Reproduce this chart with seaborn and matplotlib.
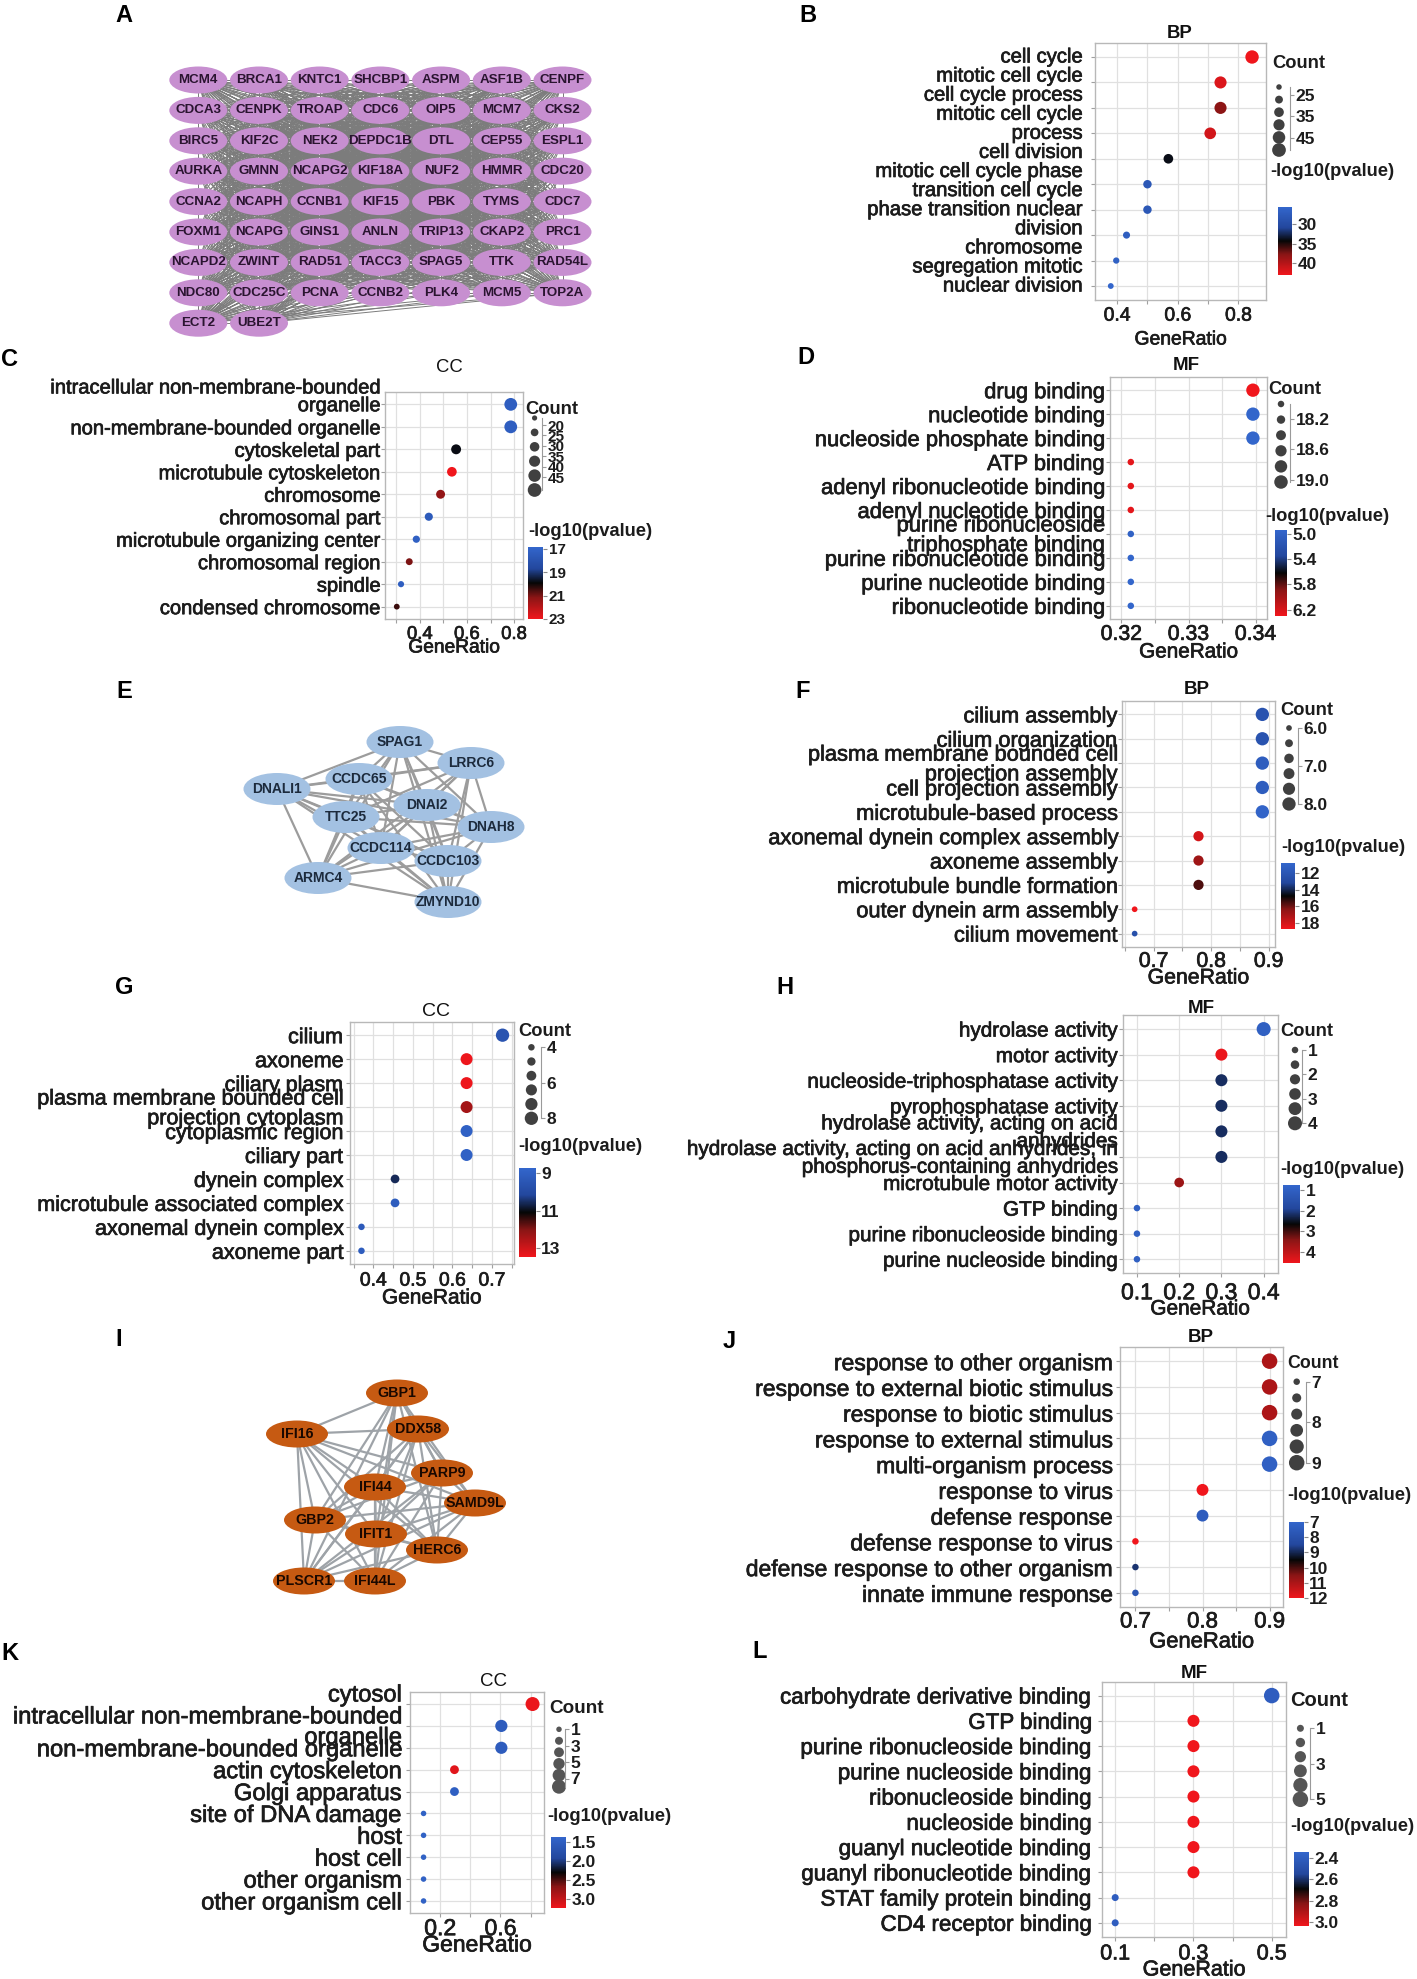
import numpy as np
import pandas as pd
import matplotlib
matplotlib.use("Agg")
import matplotlib.pyplot as plt
import matplotlib.transforms as mtransforms
import matplotlib.patheffects as pe
import seaborn as sns
from matplotlib.colors import LinearSegmentedColormap, Normalize
from matplotlib.cm import ScalarMappable
from matplotlib.patches import Ellipse
from matplotlib.collections import LineCollection
from itertools import combinations

W, H = 1417, 1979
sns.set_theme(style="white")
plt.rcParams["font.family"] = ["Liberation Sans", "DejaVu Sans"]

# ---------------- data ----------------
# network A (cell cycle module), row by row
a_genes = ["MCM4", "BRCA1", "KNTC1", "SHCBP1", "ASPM", "ASF1B", "CENPF",
           "CDCA3", "CENPK", "TROAP", "CDC6", "OIP5", "MCM7", "CKS2",
           "BIRC5", "KIF2C", "NEK2", "DEPDC1B", "DTL", "CEP55", "ESPL1",
           "AURKA", "GMNN", "NCAPG2", "KIF18A", "NUF2", "HMMR", "CDC20",
           "CCNA2", "NCAPH", "CCNB1", "KIF15", "PBK", "TYMS", "CDC7",
           "FOXM1", "NCAPG", "GINS1", "ANLN", "TRIP13", "CKAP2", "PRC1",
           "NCAPD2", "ZWINT", "RAD51", "TACC3", "SPAG5", "TTK", "RAD54L",
           "NDC80", "CDC25C", "PCNA", "CCNB2", "PLK4", "MCM5", "TOP2A",
           "ECT2", "UBE2T"]

# network E (cilium module) layout
e_genes = ["SPAG1", "LRRC6", "DNALI1", "CCDC65", "DNAI2", "TTC25",
           "DNAH8", "CCDC114", "CCDC103", "ARMC4", "ZMYND10"]
e_x = [400, 471, 277, 359, 427, 346, 491, 381, 448, 318, 448]
e_y = [742, 763, 789, 779, 805, 817, 827, 848, 861, 878, 902]

# network I (interferon module) layout
i_genes = ["GBP1", "IFI16", "DDX58", "PARP9", "IFI44", "SAMD9L",
           "GBP2", "IFIT1", "HERC6", "PLSCR1", "IFI44L"]
i_x = [397, 297, 418, 442, 375, 475, 315, 376, 437, 304, 375]
i_y = [1393, 1434, 1429, 1473, 1487, 1503, 1520, 1534, 1550, 1581, 1581]

# B: BP
b_terms = ["cell cycle", "mitotic cell cycle", "cell cycle process",
           "mitotic cell cycle process", "cell division",
           "mitotic cell cycle phase transition", "cell cycle phase transition",
           "nuclear division", "chromosome segregation", "mitotic nuclear division"]
b_lines = ["cell cycle", "mitotic cell cycle", "cell cycle process", "mitotic cell cycle",
           "process", "cell division", "mitotic cell cycle phase", "transition cell cycle",
           "phase transition nuclear", "division", "chromosome", "segregation mitotic",
           "nuclear division"]
b_ratio = [0.845, 0.741, 0.741, 0.707, 0.569, 0.500, 0.500, 0.431, 0.397, 0.379]
b_count = [49, 43, 43, 41, 33, 29, 29, 25, 23, 22]
b_logp = [43.0, 42.0, 38.0, 41.5, 34.0, 28.0, 28.0, 27.0, 26.5, 25.6]

# C: CC
c_terms = ["intracellular non-membrane-bounded\norganelle\n", "non-membrane-bounded organelle",
           "cytoskeletal part", "microtubule cytoskeleton", "chromosome", "chromosomal part",
           "microtubule organizing center", "chromosomal region", "spindle",
           "condensed chromosome"]
c_ratio = [0.786, 0.786, 0.554, 0.536, 0.488, 0.438, 0.385, 0.355, 0.320, 0.302]
c_count = [46, 46, 32, 31, 28, 25, 22, 21, 19, 18]
c_logp = [17.3, 17.3, 19.8, 23.0, 21.3, 17.5, 17.2, 21.0, 17.3, 20.4]

# D: MF
d_terms = ["drug binding", "nucleotide binding", "nucleoside phosphate binding", "ATP binding",
           "adenyl ribonucleotide binding", "adenyl nucleotide binding",
           "purine ribonucleoside\ntriphosphate binding", "purine ribonucleotide binding",
           "purine nucleotide binding", "ribonucleotide binding"]
d_ratio = [0.3396, 0.3396, 0.3396, 0.3214, 0.3214, 0.3214, 0.3214, 0.3214, 0.3214, 0.3214]
d_count = [19, 19, 19, 18, 18, 18, 18, 18, 18, 18]
d_logp = [6.3, 4.95, 4.95, 6.25, 6.25, 6.25, 5.0, 4.95, 4.95, 4.95]

# F: BP
f_terms = ["cilium assembly", "cilium organization",
           "plasma membrane bounded cell\nprojection assembly", "cell projection assembly",
           "microtubule-based process", "axonemal dynein complex assembly", "axoneme assembly",
           "microtubule bundle formation", "outer dynein arm assembly", "cilium movement"]
f_ratio = [0.889, 0.889, 0.889, 0.889, 0.889, 0.778, 0.778, 0.778, 0.667, 0.667]
f_count = [8, 8, 8, 8, 8, 7, 7, 7, 6, 6]
f_logp = [12.3, 12.3, 11.5, 11.5, 11.0, 18.0, 16.8, 15.6, 18.7, 12.5]

# G: CC
g_terms = ["cilium", "axoneme", "ciliary plasm",
           "plasma membrane bounded cell\nprojection cytoplasm", "cytoplasmic region",
           "ciliary part", "dynein complex", "microtubule associated complex",
           "axonemal dynein complex", "axoneme part"]
g_ratio = [0.727, 0.636, 0.636, 0.636, 0.636, 0.636, 0.455, 0.455, 0.370, 0.370]
g_count = [8, 7, 7, 7, 7, 7, 5, 5, 4, 4]
g_logp = [9.6, 13.4, 13.4, 12.4, 9.0, 9.0, 10.6, 9.2, 9.3, 9.2]

# H: MF
h_terms = ["hydrolase activity", "motor activity", "nucleoside-triphosphatase activity",
           "pyrophosphatase activity", "hydrolase activity, acting on acid\nanhydrides",
           "hydrolase activity, acting on acid anhydrides, in\nphosphorus-containing anhydrides",
           "microtubule motor activity", "GTP binding", "purine ribonucleoside binding",
           "purine nucleoside binding"]
h_ratio = [0.4, 0.3, 0.3, 0.3, 0.3, 0.3, 0.2, 0.1, 0.1, 0.1]
h_count = [4, 3, 3, 3, 3, 3, 2, 1, 1, 1]
h_logp = [1.0, 4.5, 2.2, 2.2, 2.2, 2.2, 3.6, 1.0, 1.0, 1.0]

# J: BP
j_terms = ["response to other organism", "response to external biotic stimulus",
           "response to biotic stimulus", "response to external stimulus",
           "multi-organism process", "response to virus", "defense response",
           "defense response to virus", "defense response to other organism",
           "innate immune response"]
j_ratio = [0.9, 0.9, 0.9, 0.9, 0.9, 0.8, 0.8, 0.7, 0.7, 0.7]
j_count = [9, 9, 9, 9, 9, 8, 8, 7, 7, 7]
j_logp = [11.0, 11.0, 11.0, 7.3, 7.3, 12.0, 7.5, 12.0, 8.8, 7.8]

# K: CC
k_terms = ["cytosol\n", "intracellular non-membrane-bounded\norganelle",
           "non-membrane-bounded organelle", "actin cytoskeleton", "Golgi apparatus",
           "site of DNA damage", "host", "host cell", "other organism", "other organism cell"]
k_ratio = [0.813, 0.606, 0.606, 0.295, 0.295, 0.09, 0.09, 0.09, 0.09, 0.09]
k_count = [8, 6, 6, 3, 3, 1, 1, 1, 1, 1]
k_logp = [3.2, 1.55, 1.55, 3.15, 1.5, 1.45, 1.45, 1.45, 1.45, 1.45]

# L: MF
l_terms = ["carbohydrate derivative binding", "GTP binding", "purine ribonucleoside binding",
           "purine nucleoside binding", "ribonucleoside binding", "nucleoside binding",
           "guanyl nucleotide binding", "guanyl ribonucleotide binding",
           "STAT family protein binding", "CD4 receptor binding"]
l_ratio = [0.5, 0.3, 0.3, 0.3, 0.3, 0.3, 0.3, 0.3, 0.1, 0.1]
l_count = [5, 3, 3, 3, 3, 3, 3, 3, 1, 1]
l_logp = [2.4, 3.04, 3.04, 3.04, 3.04, 3.04, 3.04, 3.04, 2.4, 2.4]

# ---------------- helpers ----------------
CMAP = LinearSegmentedColormap.from_list(
    "bkr", [(0, "#3366cc"), (0.3, "#23479d"), (0.5, "#060606"), (0.7, "#8a1515"), (1, "#f0161c")])
TXT = "#1c1c1c"
PX = 100 / 72.0  # px per pt
HEAVY = [pe.withStroke(linewidth=0.5, foreground=TXT)]

fig = plt.figure(figsize=(W / 100, H / 100), dpi=100)


def px_axes(l, t, r, b, **kw):
    return fig.add_axes([l / W, 1 - b / H, (r - l) / W, (b - t) / H], **kw)


def ftext(x, y, s, **kw):
    return fig.text(x / W, 1 - y / H, s, **kw)


def area(d):
    return (d / PX) ** 2


def dotplot(terms, ratio, count, logp, cfg, lines=None):
    l, t, r, b = cfg["box"]
    ax = px_axes(l, t, r, b)
    n = len(terms)
    df = pd.DataFrame({"term": terms, "GeneRatio": ratio, "Count": count, "logp": logp})
    c0, c1 = cfg["crange"]
    d0, d1 = cfg["diam"]
    vmin, vmax = cfg["vlim"]
    sns.scatterplot(data=df, x="GeneRatio", y="term", hue="logp", size="Count",
                    palette=CMAP, hue_norm=(vmin, vmax), sizes=(area(d0), area(d1)),
                    size_norm=(c0, c1), linewidth=0, legend=False, ax=ax, zorder=3)
    ax.set_xlim(*cfg["xlim"])
    ax.set_ylim(n - 1 + 0.55, -0.55)
    ax.set_xticks(cfg["xmajor"], labels=[cfg["xfmt"].format(v) for v in cfg["xmajor"]])
    ax.set_xticks(cfg["xminor"], minor=True)
    ax.set_yticks(range(n))
    ax.set_yticklabels(terms if lines is None else [""] * n,
                       fontsize=cfg["lab"], color=TXT, linespacing=0.92)
    for lab in ax.get_yticklabels():
        lab.set_path_effects(HEAVY)
    for lab in ax.get_xticklabels():
        lab.set_fontsize(cfg["tick"])
        lab.set_color(TXT)
        lab.set_path_effects(HEAVY)
    ax.set_xlabel("")
    ax.set_ylabel("")
    ax.grid(True, which="both", color="#e0e0e0", lw=0.9)
    ax.set_axisbelow(True)
    for s in ax.spines.values():
        s.set_color("#b8b8b8")
        s.set_linewidth(1.0)
    ypad = max(0.0, (cfg["gap"] - 4.2) / PX)
    xpad = max(0.0, (cfg["xt_y"] - b - 4.2 - 0.38 * cfg["tick"] * PX) / PX)
    ax.tick_params(axis="y", which="major", left=True, length=3, width=0.8,
                   color="#a0a0a0", pad=ypad)
    ax.tick_params(axis="x", which="both", bottom=True, length=3, width=0.8,
                   color="#a0a0a0", pad=xpad)
    if lines is not None:
        tr = mtransforms.offset_copy(
            mtransforms.blended_transform_factory(ax.transAxes, ax.transData),
            fig=fig, x=-cfg["gap"], y=0, units="dots")
        for yy, s in zip(np.linspace(0, n - 1, len(lines)), lines):
            ax.text(0, yy, s, transform=tr, ha="right", va="center",
                    fontsize=cfg["lab"], color=TXT, path_effects=HEAVY)
    # title and axis label
    ftext(cfg["title_xy"][0], cfg["title_xy"][1], cfg["title"], ha="center", va="center",
          fontsize=cfg["tsize"], weight="bold" if cfg["tbold"] else "normal", color="#111111")
    ftext((l + r) / 2, cfg["xl_y"], "GeneRatio", ha="center", va="center",
          fontsize=cfg["xl"], color=TXT, path_effects=HEAVY)

    # size legend
    lg = cfg["leg"]
    ftext(lg["count"][0], lg["count"][1], "Count", ha="left", va="center",
          fontsize=lg.get("tsize", 13.2), weight="bold", color=TXT)
    cx, ctop, cbot = lg["circ"]
    per = (c1 - c0) / (cbot - ctop)
    m = 10
    lax = px_axes(cx - 12, ctop - m, lg["bx"], cbot + m)
    lax.set_xlim(cx - 12, lg["bx"])
    lax.set_ylim(c1 + m * per, c0 - m * per)
    vals = list(np.linspace(c0, c1, 6))
    ldf = pd.DataFrame({"x": [cx] * len(vals), "Count": vals})
    sns.scatterplot(data=ldf, x="x", y="Count", size="Count", sizes=(area(d0), area(d1)),
                    size_norm=(c0, c1), color=lg.get("col", "#404040"), linewidth=0,
                    legend=False, ax=lax, clip_on=False)
    lax.set_xlabel("")
    lax.set_ylabel("")
    lax.set_xticks([])
    lax.patch.set_visible(False)
    for k in ["top", "bottom", "left"]:
        lax.spines[k].set_visible(False)
    lax.spines["right"].set_bounds(c0, c1)
    lax.spines["right"].set_color("#9a9a9a")
    lax.spines["right"].set_linewidth(0.8)
    lax.yaxis.tick_right()
    lax.set_yticks(lg["ticks"], labels=[lg["fmt"].format(v) for v in lg["ticks"]])
    lax.tick_params(axis="y", right=True, length=3, width=0.8, color="#9a9a9a", pad=1,
                    labelsize=lg.get("nsize", 12.5), labelcolor=TXT)
    for lab in lax.get_yticklabels():
        lab.set_fontweight("bold")

    # colour bar
    ftext(lg["logt"][0], lg["logt"][1], "-log10(pvalue)", ha="left", va="center",
          fontsize=13.2, weight="bold", color=TXT)
    x0, y0, x1, y1 = lg["cbar"]
    cax = px_axes(x0, y0, x1, y1)
    cb = fig.colorbar(ScalarMappable(norm=Normalize(vmin, vmax), cmap=CMAP), cax=cax)
    cb.outline.set_visible(False)
    cax.invert_yaxis()
    cb.set_ticks(lg["cticks"], labels=[lg["cfmt"].format(v) for v in lg["cticks"]])
    cax.tick_params(length=3, width=0.8, color="#8a8a8a", pad=1,
                    labelsize=lg.get("nsize", 12.5), labelcolor=TXT)
    for lab in cax.get_yticklabels():
        lab.set_fontweight("bold")
    return ax


# ---------------- networks ----------------
net = fig.add_axes([0, 0, 1, 1])
net.set_xlim(0, W)
net.set_ylim(H, 0)
net.set_axis_off()


def draw_net(names, xs, ys, w, h, face, tcol, fsize, ecol, elw):
    pos = dict(zip(names, zip(xs, ys)))
    segs = [[pos[a], pos[b]] for a, b in combinations(names, 2)]
    net.add_collection(LineCollection(segs, colors=ecol, linewidths=elw, zorder=1))
    for nm, x, y in zip(names, xs, ys):
        net.add_patch(Ellipse((x, y), w, h, facecolor=face, edgecolor="none", zorder=2))
        net.text(x, y, nm, ha="center", va="center", fontsize=fsize, weight="bold",
                 color=tcol, zorder=3)


# A: grid layout of the module
a_x = [198.3 + 60.7 * (i % 7) for i in range(len(a_genes))]
a_y = [80 + 30.4 * (i // 7) for i in range(len(a_genes))]
draw_net(a_genes, a_x, a_y, 58, 27, "#c78fd0", "#2a1430", 9.6, "#7c7c7c", 0.7)
draw_net(e_genes, e_x, e_y, 67, 32, "#a3c1e2", "#1c2a3c", 10, "#9c9c9c", 1.6)
draw_net(i_genes, i_x, i_y, 62, 27, "#c65a12", "#1a0800", 10.3, "#9ea3a8", 1.6)

# ---------------- dot plots ----------------
cfgB = dict(box=(1095, 43, 1266, 300), xlim=(0.327, 0.891), xmajor=[0.4, 0.6, 0.8],
            xminor=[0.5, 0.7], xfmt="{:.1f}", title="BP", title_xy=(1180, 33), tbold=True,
            tsize=13.3, lab=14.6, tick=13.9, xl=13.9, xl_y=340, xt_y=315, gap=12.4,
            crange=(21.3, 50.6), diam=(5.5, 13.7), vlim=(25.6, 43.1),
            leg=dict(count=(1272, 63), circ=(1279, 87, 150), bx=1290, ticks=[25, 35, 45],
                     fmt="{:.0f}", logt=(1270, 172), cbar=(1278, 207, 1292, 275),
                     cticks=[30, 35, 40], cfmt="{:.0f}"))
cfgC = dict(box=(385, 392, 523, 619), xlim=(0.252, 0.838), xmajor=[0.4, 0.6, 0.8],
            xminor=[0.3, 0.5, 0.7], xfmt="{:.1f}", title="CC", title_xy=(449, 368), tbold=False,
            tsize=13.3, lab=14.5, tick=13.3, xl=13.8, xl_y=648, xt_y=633, gap=4,
            crange=(16.6, 51.25), diam=(5.2, 13.7), vlim=(16.83, 23.0),
            leg=dict(count=(525, 410), circ=(534.6, 418, 490), bx=542,
                     ticks=[20, 25, 30, 35, 40, 45], fmt="{:.0f}", nsize=11,
                     logt=(528, 532), cbar=(528, 547, 543, 619),
                     cticks=[17, 19, 21, 23], cfmt="{:.0f}"))
cfgD = dict(box=(1110, 377, 1267, 619), xlim=(0.3183, 0.3417), xmajor=[0.32, 0.33, 0.34],
            xminor=[0.325, 0.335], xfmt="{:.2f}", title="MF", title_xy=(1186, 366), tbold=True,
            tsize=13.5, lab=15.8, tick=15.3, xl=14.9, xl_y=652, xt_y=633, gap=5.6,
            crange=(18.0, 19.03), diam=(6.5, 13.5), vlim=(4.94, 6.3),
            leg=dict(count=(1268, 390), circ=(1281, 404, 482), bx=1290,
                     ticks=[18.2, 18.6, 19.0], fmt="{:.1f}", logt=(1265, 516),
                     cbar=(1275, 530, 1287, 616), cticks=[5.0, 5.4, 5.8, 6.2], cfmt="{:.1f}"))
cfgF = dict(box=(1122, 701, 1275, 947), xlim=(0.645, 0.911), xmajor=[0.7, 0.8, 0.9],
            xminor=[0.65, 0.75, 0.85], xfmt="{:.1f}", title="BP", title_xy=(1197, 690),
            tbold=True, tsize=13.5, lab=15.7, tick=15.3, xl=15.3, xl_y=978, xt_y=960, gap=5.6,
            crange=(6, 8), diam=(5.7, 13.3), vlim=(10.8, 18.7),
            leg=dict(count=(1280, 710), circ=(1289, 728, 804), bx=1298,
                     ticks=[6.0, 7.0, 8.0], fmt="{:.1f}", logt=(1281, 848),
                     cbar=(1281, 863, 1295, 929), cticks=[12, 14, 16, 18], cfmt="{:.0f}"))
cfgG = dict(box=(350, 1022, 514, 1264), xlim=(0.341, 0.756), xmajor=[0.4, 0.5, 0.6, 0.7],
            xminor=[0.35, 0.45, 0.55, 0.65, 0.75], xfmt="{:.1f}", title="CC",
            title_xy=(436, 1011), tbold=False, tsize=14, lab=15.5, tick=13.9, xl=15,
            xl_y=1298, xt_y=1280, gap=7, crange=(4, 8), diam=(6.5, 13.3), vlim=(8.77, 13.44),
            leg=dict(count=(518.6, 1031.7), circ=(531.4, 1047.3, 1118.3), bx=541,
                     ticks=[4, 6, 8], fmt="{:.0f}", logt=(518.6, 1146.7),
                     cbar=(518.6, 1168.3, 535.7, 1256.7), cticks=[9, 11, 13], cfmt="{:.0f}"))
cfgH = dict(box=(1122.6, 1015, 1278, 1273.3), xlim=(0.066, 0.434),
            xmajor=[0.1, 0.2, 0.3, 0.4], xminor=[], xfmt="{:.1f}", title="MF",
            title_xy=(1200.8, 1009), tbold=True, tsize=13.5, lab=14.9, tick=16.5, xl=15,
            xl_y=1309, xt_y=1290, gap=5, crange=(1, 4), diam=(6.5, 14), vlim=(0.76, 4.56),
            leg=dict(count=(1280.5, 1032), circ=(1295, 1050, 1123.3), bx=1302,
                     ticks=[1, 2, 3, 4], fmt="{:.0f}", logt=(1280.5, 1170),
                     cbar=(1283, 1185, 1300, 1263.3), cticks=[1, 2, 3, 4], cfmt="{:.0f}"))
cfgJ = dict(box=(1120, 1347, 1283, 1607), xlim=(0.677, 0.92), xmajor=[0.7, 0.8, 0.9],
            xminor=[0.75, 0.85], xfmt="{:.1f}", title="BP", title_xy=(1200.7, 1338),
            tbold=True, tsize=13.5, lab=16.5, tick=16, xl=15.8, xl_y=1642, xt_y=1620, gap=7,
            crange=(7, 9), diam=(6.5, 15.5), vlim=(7, 12),
            leg=dict(count=(1287.6, 1363.3), circ=(1296.7, 1381.7, 1462.7), bx=1306,
                     ticks=[7, 8, 9], fmt="{:.0f}", tsize=12.8, logt=(1287.6, 1495),
                     cbar=(1288.5, 1521.7, 1303.5, 1598.3), cticks=[7, 8, 9, 10, 11, 12],
                     cfmt="{:.0f}"))
cfgK = dict(box=(410, 1692, 544, 1913), xlim=(0.0, 0.889), xmajor=[0.2, 0.6],
            xminor=[0.4, 0.8], xfmt="{:.1f}", title="CC", title_xy=(493.3, 1681.7),
            tbold=False, tsize=13.5, lab=17.1, tick=16.6, xl=16.5, xl_y=1945, xt_y=1925, gap=8,
            crange=(1, 8), diam=(5.5, 14), vlim=(1.37, 3.23),
            leg=dict(count=(549, 1708.3), circ=(559, 1729.3, 1786.7), bx=565,
                     ticks=[1, 3, 5, 7], fmt="{:.0f}", col="#555555", tsize=13.6,
                     logt=(547, 1816.7), cbar=(551.3, 1836.7, 566, 1908.3),
                     cticks=[1.5, 2.0, 2.5, 3.0], cfmt="{:.1f}"))
cfgL = dict(box=(1101.5, 1681.7, 1286.2, 1936.7), xlim=(0.065, 0.537),
            xmajor=[0.1, 0.3, 0.5], xminor=[0.2, 0.4], xfmt="{:.1f}", title="MF",
            title_xy=(1193.8, 1673.3), tbold=True, tsize=13.5, lab=16.1, tick=15.5, xl=15.5,
            xl_y=1970, xt_y=1951.7, gap=9, crange=(1, 5), diam=(7, 15.5), vlim=(2.34, 3.04),
            leg=dict(count=(1289.8, 1700), circ=(1300.4, 1728.3, 1799.3), bx=1310,
                     ticks=[1, 3, 5], fmt="{:.0f}", col="#555555", tsize=14.5,
                     logt=(1289.8, 1826.7), cbar=(1294.4, 1851.7, 1309, 1926),
                     cticks=[2.4, 2.6, 2.8, 3.0], cfmt="{:.1f}"))

dotplot(b_terms, b_ratio, b_count, b_logp, cfgB, lines=b_lines)
dotplot(c_terms, c_ratio, c_count, c_logp, cfgC)
dotplot(d_terms, d_ratio, d_count, d_logp, cfgD)
dotplot(f_terms, f_ratio, f_count, f_logp, cfgF)
dotplot(g_terms, g_ratio, g_count, g_logp, cfgG)
dotplot(h_terms, h_ratio, h_count, h_logp, cfgH)
dotplot(j_terms, j_ratio, j_count, j_logp, cfgJ)
dotplot(k_terms, k_ratio, k_count, k_logp, cfgK)
dotplot(l_terms, l_ratio, l_count, l_logp, cfgL)

# panel letters
letters = ["A", "B", "C", "D", "E", "F", "G", "H", "I", "J", "K", "L"]
letter_xy = [(124, 15), (808, 15), (10, 359), (806, 358), (124, 692), (803, 692),
             (124, 988), (785, 988), (119, 1340), (729, 1342), (10, 1653), (760, 1652)]
for s, (x, y) in zip(letters, letter_xy):
    ftext(x, y, s, ha="center", va="center", fontsize=17, weight="bold", color="#000000")

fig.savefig("out.png", dpi=100)
